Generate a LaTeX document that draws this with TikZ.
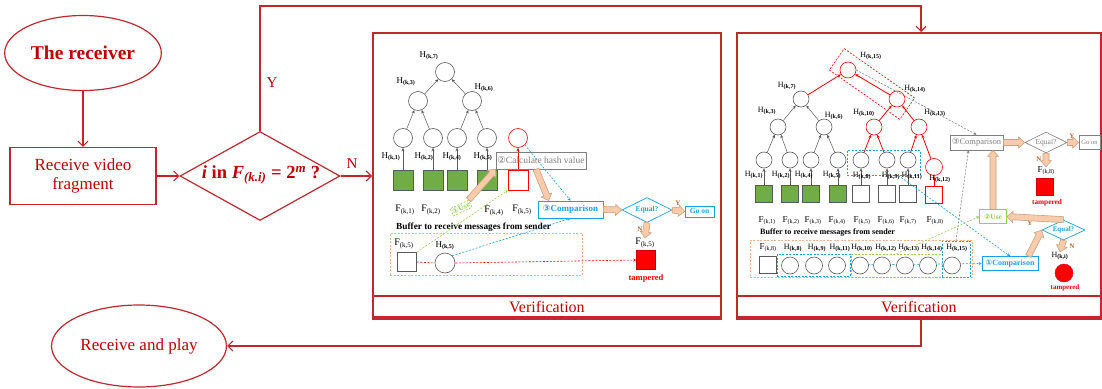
\documentclass[tikz,border=0pt]{standalone}
\usepackage{fontspec}
\setmainfont{Liberation Serif}
\newfontfamily\dvs{DejaVu Sans}
\usetikzlibrary{calc,shapes.geometric,arrows.meta}
\definecolor{fr}{HTML}{C0282D}
\definecolor{frt}{HTML}{C00000}
\definecolor{gfill}{HTML}{70AD47}
\definecolor{cyb}{HTML}{1BA1E2}
\definecolor{tanl}{HTML}{C9A27E}
\definecolor{tanf}{HTML}{F8CBAD}
\definecolor{grt}{HTML}{7F7F7F}
\definecolor{grb}{HTML}{92D050}
\definecolor{orb}{HTML}{F4B183}
\definecolor{rdf}{HTML}{FF0000}
\definecolor{brn}{HTML}{B8652E}
\definecolor{lnc}{HTML}{595959}
\newcommand\Hs[1]{H\textsubscript{\textbf{(k,#1)}}}
\newcommand\Fs[1]{F\textsubscript{(k,#1)}}
\newcommand\cd[1]{{\dvs #1}}
\newcommand\dectext{\textit{i} in \textit{F}\textsubscript{\textit{(k.i)}} = 2\textsuperscript{\textit{m}} ?}
\newcommand\fat[2]{\draw[fatst] ($#1!3pt!90:#2$) -- ($#2!6pt!#1!3pt!90:#2$) -- ($#2!6pt!#1!5.5pt!90:#2$) -- #2 -- ($#2!6pt!#1!5.5pt!-90:#2$) -- ($#2!6pt!#1!3pt!-90:#2$) -- ($#1!3pt!-90:#2$) -- cycle;}
\begin{document}
\begin{tikzpicture}[x=1pt,y=-1pt,
 fl/.style={draw=fr,line width=1.2pt},
 farr/.style={draw=fr,line width=1.1pt,-{Straight Barb[length=5pt,width=10pt]}},
 ftext/.style={text=frt,font=\fontsize{17}{19}\selectfont},
 panel/.style={draw=fr,line width=1.8pt,inner sep=0,anchor=north west,minimum height=286},
 band/.style={draw=fr,line width=1.8pt,inner sep=0,anchor=south west,minimum height=21,text=frt,font=\fontsize{16}{16}\selectfont},
 hc/.style={circle,draw=lnc,line width=0.6pt,fill=white,inner sep=0,minimum size=19},
 hcs/.style={hc,minimum size=16},
 sqm/.style={draw=lnc,line width=0.6pt,fill=white,inner sep=0,minimum size=20},
 sqs/.style={sqm,minimum size=17},
 hl/.style={inner sep=0,font=\fontsize{9}{9}\selectfont},
 hls/.style={inner sep=0,font=\fontsize{8}{8}\selectfont},
 flab/.style={inner sep=0,font=\fontsize{10}{10}\selectfont},
 flabs/.style={inner sep=0,font=\fontsize{9}{9}\selectfont},
 tarr/.style={draw=lnc,line width=0.5pt,-{Stealth[length=3.5pt,width=3pt]}},
 rarr/.style={draw=rdf,line width=0.8pt,-{Stealth[length=3.5pt,width=3pt]}},
 dsh/.style={dash pattern=on 2pt off 1.5pt,line width=0.6pt},
 dar/.style={dsh,-{Stealth[length=3pt,width=3pt]}},
 bbox/.style={draw=cyb,line width=0.7pt,inner sep=0,font=\bfseries\fontsize{9}{9}\selectfont,text=cyb},
 fatst/.style={draw=tanl,fill=tanf,line width=0.6pt},
 ynl/.style={text=brn,inner sep=0,font=\bfseries\fontsize{7}{7}\selectfont},
 tamp/.style={text=rdf,inner sep=0,font=\bfseries\fontsize{8.5}{8.5}\selectfont}]
\useasboundingbox (0,0) rectangle (1102,388);
% ---------- panels
\node[panel,minimum width=348] (p1) at (372,32) {};
\node[band,minimum width=348] (v1) at (372,318) {Verification};
\node[panel,minimum width=364] (p2) at (736,32) {};
\node[band,minimum width=364] (v2) at (736,318) {Verification};
% ---------- flowchart
\node[ellipse,fl,minimum width=130,minimum height=75,text=frt,font=\bfseries\fontsize{19.5}{20}\selectfont] (recv) at (83,53) {The receiver};
\node[fl,ftext,minimum width=146,minimum height=57,align=center,inner sep=0] (frag) at (83,176) {Receive video\\fragment};
\node[diamond,fl,minimum width=160,minimum height=89,inner sep=0] (dec) at (260,176) {};
\node[text=frt,inner sep=0,font=\bfseries\fontsize{18.5}{18.5}\selectfont] (dect) at (261,175) {\dectext};
\node[ellipse,fl,ftext,minimum width=146,minimum height=82] (play) at (139,346) {Receive and play};
\coordinate (ytop) at (921,6);
\coordinate (vbot) at (921,330);
\draw[farr] (recv) -- (frag);
\draw[farr] (frag) -- (dec);
\draw[farr] (dec.north) |- (ytop) -- (ytop |- p2.north);
\node[text=frt,inner sep=0,font=\fontsize{15}{15}\selectfont] (ylab) at (272,83) {Y};
\draw[farr] (dec.east) -- (dec.east -| p1.west);
\node[text=frt,inner sep=0,font=\fontsize{15}{15}\selectfont] (nlab) at (352,164) {N};
\draw[farr] (vbot |- v2.south) |- (play.east);
% ---------- middle panel tree
\node[hc] (m7) at (445,72) {};
\node[hc] (m3) at (418,101) {};
\node[hc] (m6) at (472,101) {};
\node[hc] (m1) at (403,138) {};
\node[hc] (m2) at (433,138) {};
\node[hc] (m4) at (457,138) {};
\node[hc] (m5) at (487,138) {};
\node[hc,draw=rdf] (mr) at (518,138) {};
\node[sqm,fill=gfill] (ms1) at (403,180) {};
\node[sqm,fill=gfill] (ms2) at (433,180) {};
\node[sqm,fill=gfill] (ms4) at (457,180) {};
\node[sqm,fill=gfill] (ms5) at (487,180) {};
\node[sqm,draw=rdf] (msr) at (518,180) {};
\foreach \a/\b in {ms1/m1,ms2/m2,ms4/m4,ms5/m5,m1/m3,m2/m3,m4/m6,m5/m6,m3/m7,m6/m7}{\draw[tarr] (\a) -- (\b);}
\draw[rarr] (msr) -- (mr);
\node[hl] (lm7) at (429,56) {\Hs{7}};
\node[hl] (lm3) at (406,82) {\Hs{3}};
\node[hl] (lm6) at (484,88) {\Hs{6}};
\node[hl] (lm1) at (391,157) {\Hs{1}};
\node[hl] (lm2) at (424,157) {\Hs{2}};
\node[hl] (lm4) at (452,157) {\Hs{4}};
\node[hl] (lm5) at (483,157) {\Hs{5}};
\node[flab] (fm1) at (405,210) {\Fs{1}};
\node[flab] (fm2) at (431,210) {\Fs{2}};
\node[flab] (fm4) at (494,211) {\Fs{4}};
\node[flab] (fm5) at (522,210) {\Fs{5}};
\node[draw=grt,line width=0.6pt,text=grt,inner sep=0,minimum width=90,minimum height=17,font=\fontsize{9.5}{9.5}\selectfont] (calc) at (541,160.5) {\cd{②}Calculate hash value};
% middle buffer
\node[anchor=west,inner sep=0,font=\bfseries\fontsize{9.3}{9.3}\selectfont] (bt1) at (396,227) {Buffer to receive messages from sender};
\node[draw=orb,dsh,minimum width=192,minimum height=42,inner sep=0] (buf1) at (486,254) {};
\node[sqm,minimum size=19] (bs1) at (407,262) {};
\node[flab] (bfl1) at (404,244) {\Fs{5}};
\node[hc,minimum size=20] (bc1) at (445,263) {};
\node[hl] (bhl1) at (445,246) {\Hs{5}};
% middle comparison chain
\node[bbox,minimum width=65,minimum height=17] (cmp1) at (570.5,209.5) {\cd{③}Comparison};
\node[diamond,draw=cyb,line width=0.7pt,aspect=2,minimum width=50,minimum height=25,inner sep=0,text=cyb,font=\bfseries\fontsize{7.5}{7.5}\selectfont] (eq1) at (647,210) {Equal?};
\node[bbox,minimum width=29,minimum height=11,font=\bfseries\fontsize{7.5}{7.5}\selectfont] (goon1) at (699.5,211.5) {Go on};
\node[flab] (fl5) at (645,243) {\Fs{5}};
\node[sqm,fill=rdf,draw=rdf!80!black,minimum size=19] (tamp1) at (646,260) {};
\node[tamp] (tt1) at (646,278) {tampered};
\node[ynl] (y1) at (678,203) {Y};
\node[ynl] (n1) at (640,229) {N};
\draw[dsh,draw=rdf] (bs1.east) -- (bc1.west);
\draw[dar,draw=rdf] (bc1.east) -- (tamp1.west);
\draw[dar,draw=cyb] (mr.south east) -- (cmp1.north);
\draw[dar,draw=cyb] (bc1.north east) -- (cmp1.south);
\draw[dar,draw=grb] (bs1.north east) -- (msr.south west);
\node[draw=grb,dsh,fill=white,text=grb,rotate=25,inner sep=1.2pt,font=\bfseries\fontsize{7.5}{7.5}\selectfont] (use1) at (461,208) {\cd{①}Use};
\fat{(use1.north east)}{(calc.south west)}
\coordinate (c1s) at ($(calc.south)+(-5,0)$);
\coordinate (c1t) at ($(cmp1.north west)!0.17!(cmp1.north east)$);
\fat{(c1s)}{(c1t)}
\fat{(cmp1.east)}{(eq1.west)}
\fat{(eq1.east)}{(goon1.west)}
\fat{(eq1.south)}{(fl5.north)}
% ---------- right panel tree
\node[draw=rdf,dsh,rotate=-35,minimum width=86,minimum height=26,inner sep=0] (rb) at (872,84) {};
\node[draw=cyb,dsh,line width=0.8pt,minimum width=73,minimum height=25,inner sep=0] (tb1) at (883.5,162.5) {};
\node[hcs,draw=rdf] (r15) at (848,70) {};
\node[hcs] (r7) at (801,99) {};
\node[hcs,draw=rdf] (r14) at (897,99) {};
\node[hcs] (r3) at (778,127) {};
\node[hcs] (r6) at (824,127) {};
\node[hcs,draw=rdf] (r10) at (874,127) {};
\node[hcs,draw=rdf] (r13) at (919,127) {};
\node[hcs] (r1) at (764,160) {};
\node[hcs] (r2) at (790,160) {};
\node[hcs] (r4) at (811,160) {};
\node[hcs] (r5) at (838,160) {};
\node[hcs] (r8) at (861,160) {};
\node[hcs] (r9) at (887,160) {};
\node[hcs] (r11) at (908,160) {};
\node[hcs,draw=rdf,minimum size=17] (r12) at (934,167) {};
\node[sqs,fill=gfill] (rs1) at (764,194) {};
\node[sqs,fill=gfill] (rs2) at (790,194) {};
\node[sqs,fill=gfill] (rs4) at (811,194) {};
\node[sqs,fill=gfill] (rs5) at (838,194) {};
\node[sqs] (rs8) at (861,194) {};
\node[sqs] (rs9) at (887,194) {};
\node[sqs] (rs11) at (908,194) {};
\node[sqs,draw=rdf] (rs12) at (934,195) {};
\foreach \a/\b in {rs1/r1,rs2/r2,rs4/r4,rs5/r5,rs8/r8,rs9/r9,rs11/r11,r1/r3,r2/r3,r4/r6,r5/r6,r3/r7,r6/r7}{\draw[tarr] (\a) -- (\b);}
\foreach \a/\b in {rs12/r12,r8/r10,r9/r10,r11/r13,r12/r13,r10/r14,r13/r14,r7/r15,r14/r15}{\draw[rarr] (\a) -- (\b);}
\node[hls] (lr15) at (871,56) {\Hs{15}};
\node[hls] (lr7) at (787,86) {\Hs{7}};
\node[hls] (lr14) at (915,89) {\Hs{14}};
\node[hls] (lr3) at (767,111) {\Hs{3}};
\node[hls] (lr6) at (834,116) {\Hs{6}};
\node[hls] (lr10) at (864,113) {\Hs{10}};
\node[hls] (lr13) at (935,113) {\Hs{13}};
\node[hls] (lr1) at (754,175) {\Hs{1}};
\node[hls] (lr2) at (781,175) {\Hs{2}};
\node[hls] (lr4) at (804,175) {\Hs{4}};
\node[hls] (lr5) at (832,175) {\Hs{5}};
\node[hls] (lr8) at (862,176) {\Hs{8}};
\node[hls] (lr9) at (891,176) {\Hs{9}};
\node[hls] (lr11) at (912,176) {\Hs{11}};
\node[hls] (lr12) at (940,179) {\Hs{12}};
\foreach \i/\x in {1/767,2/791,3/813,4/837,5/862,6/886,7/908,8/935}{\node[flabs] (fr\i) at (\x,221) {\Fs{\i}};}
% right buffer
\node[anchor=west,inner sep=0,font=\bfseries\fontsize{8.1}{8.1}\selectfont] (bt2) at (760,233) {Buffer to receive messages from sender};
\node[draw=orb,dsh,minimum width=222,minimum height=37,inner sep=0] (buf2) at (861,258.5) {};
\node[draw=cyb,dsh,line width=0.8pt,minimum width=73,minimum height=22,inner sep=0] (bb1) at (813.5,265) {};
\node[draw=grb,dsh,line width=0.8pt,minimum width=91,minimum height=23,inner sep=0] (gb1) at (896.5,265.5) {};
\node[draw=cyb,dsh,line width=0.8pt,minimum width=28,minimum height=36,inner sep=0] (bb2) at (956,259) {};
% right flow
\node[draw=grt,line width=0.6pt,text=grt,minimum width=53,minimum height=15,inner sep=0,font=\fontsize{8.5}{8.5}\selectfont] (cmp3) at (976.5,142.5) {\cd{③}Comparison};
\node[diamond,draw=grt,line width=0.6pt,aspect=2,minimum width=42,minimum height=21,inner sep=0,text=grt,font=\fontsize{7.5}{7.5}\selectfont] (eq3) at (1046,142.5) {Equal?};
\node[draw=grt,line width=0.6pt,text=grt,minimum width=21,minimum height=14,inner sep=0,font=\fontsize{6.5}{6.5}\selectfont] (goon3) at (1089.5,142.5) {Go on};
\node[flabs] (fl8) at (1046,171) {\Fs{8}};
\node[sqs,fill=rdf,draw=rdf!80!black] (tamp3) at (1045,187) {};
\node[tamp,font=\bfseries\fontsize{7.3}{7.3}\selectfont] (tt3) at (1047,203) {tampered};
\node[ynl] (y3) at (1072,136) {Y};
\node[ynl] (n3) at (1039,159) {N};
\node[draw=grb,line width=0.6pt,text=grb,minimum width=27,minimum height=14,inner sep=0,font=\bfseries\fontsize{7.5}{7.5}\selectfont] (use2) at (993,216.5) {\cd{②}Use};
\node[diamond,draw=cyb,line width=0.7pt,aspect=2,minimum width=43,minimum height=20,inner sep=0,text=cyb,font=\bfseries\fontsize{7}{7}\selectfont] (eq2) at (1063.5,230) {Equal?};
\node[bbox,minimum width=56,minimum height=14,font=\bfseries\fontsize{8}{8}\selectfont] (cmp2) at (1010,263.5) {\cd{①}Comparison};
\node[hls] (hki) at (1060,256) {H\textsubscript{\textbf{(k,i)}}};
\node[circle,fill=rdf,draw=rdf!80!black,inner sep=0,minimum size=18] (tamp2) at (1064,273) {};
\node[tamp,font=\bfseries\fontsize{7}{7}\selectfont] (tt2) at (1065,288) {tampered};
\node[ynl] (y2) at (1030,223) {Y};
\node[ynl] (n2) at (1072,246) {N};
% right dashed connectors
\draw[dar,draw=cyb] (bb1.east) -- (cmp2.west);
\coordinate (tbs) at ($(tb1.south)!0.4!(tb1.south east)$);
\draw[dar,draw=cyb] (tbs) -- (cmp2.north);
\draw[dar,draw=grt] (r15.east) -- (cmp3.north);
\coordinate (c3b) at ($(cmp3.south west)!0.35!(cmp3.south east)$);
\draw[dar,draw=grt] (bb2.north) -- (c3b);
\draw[dar,draw=grb] (gb1.north) -- (use2.west);
% buffer contents
\node[sqs] (bs2) at (768,265) {};
\node[flabs] (bfl2) at (768,248) {\Fs{8}};
\foreach \n/\x/\lx in {8/790/793,9/814/817,11/837/840,10/860/862,12/882/886,13/905/909,14/928/932,15/952/957}{
 \node[hcs,minimum size=17] (bc\n) at (\x,265.5) {};
 \node[hls] (bl\n) at (\lx,248) {\Hs{\n}};}
% right fat arrows
\fat{(cmp3.east)}{(eq3.west)}
\fat{(eq3.east)}{(goon3.west)}
\fat{(eq3.south)}{(fl8.north)}
\coordinate (u2t) at (use2.north |- cmp3.south);
\fat{(use2.north)}{(u2t)}
\coordinate (c2s) at ($(cmp2.north)!0.65!(cmp2.north east)$);
\fat{(c2s)}{(eq2.west)}
\fat{(eq2.north)}{(use2.east)}
\fat{(eq2.south)}{(hki.north)}
\end{tikzpicture}
\end{document}
